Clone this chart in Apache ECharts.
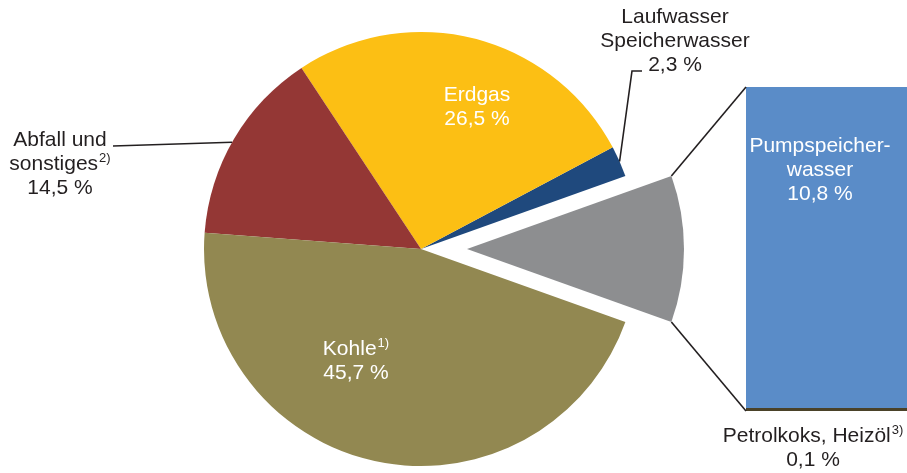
<!DOCTYPE html>
<html>
<head>
<meta charset="utf-8">
<script src="https://cdn.jsdelivr.net/npm/echarts@6/dist/echarts.min.js"></script>
<style>
html, body { margin: 0; padding: 0; background: #fff; }
#main { width: 907px; height: 473px; }
</style>
</head>
<body>
<div id="main"></div>
<script>
// pie: first slice is the exploded one, split up in the bar on the right
var pieNames = ['Pumpspeicherwasser, Petrolkoks, Heizöl', 'Laufwasser Speicherwasser', 'Erdgas', 'Abfall und sonstiges', 'Kohle'];
var pieLabels = ['', 'Laufwasser\nSpeicherwasser', 'Erdgas', 'Abfall und\nsonstiges', 'Kohle'];
var pieNotes = ['', '', '', '2)', '1)'];
var pieValues = [10.9, 2.3, 26.5, 14.5, 45.7];
var pieColors = ['#8d8e90', '#1f497d', '#fcbf14', '#943735', '#928851'];

// bar: bottom to top
var barNames = ['Petrolkoks, Heizöl', 'Pumpspeicherwasser'];
var barLabels = ['Petrolkoks, Heizöl', 'Pumpspeicher-\nwasser'];
var barNotes = ['3)', ''];
var barValues = [0.1, 10.8];
var barColors = ['#4a4229', '#5a8cc8'];

var font = 'Liberation Sans';
var dark = '#231f20';
var cx = 421, cy = 249, R = 217, explode = 46;
var gridL = 746, gridT = 87, gridB = 62;

function fmt(v) {
	return v.toFixed(1).replace('.', ',') + ' %';
}
function polar(x, y, r, deg) {
	var a = deg * Math.PI / 180;
	return [x + r * Math.cos(a), y - r * Math.sin(a)];
}
//label text with a superscript note behind the name
function labelText(name, note, value) {
	var lines = name.split('\n').map(function (l) { return '{t|' + l + '}'; });
	if (note) {
		lines[lines.length - 1] += '{s|' + note + '}';
	}
	lines.push('{t|' + fmt(value) + '}');
	return lines.join('\n');
}
function textItem(x, y, text, color) {
	return {
		type: 'text', x: x, y: y, z: 100, silent: true,
		style: {
			text: text, align: 'center', verticalAlign: 'middle',
			rich: {
				t: { fontFamily: font, fontSize: 21, lineHeight: 24, fill: color, color: color },
				s: { fontFamily: font, fontSize: 13, lineHeight: 24, fill: color, color: color, verticalAlign: 'top', padding: [0, 0, 6, 1] }
			}
		}
	};
}
function lineItem(points) {
	return {
		type: 'polyline', z: 100, silent: true,
		shape: { points: points },
		style: { stroke: dark, lineWidth: 1.6, fill: null }
	};
}

var sum = pieValues.reduce(function (a, b) { return a + b; }, 0);
var half = pieValues[0] / sum * 180;
// mid angle of each slice (counterclockwise, starting below the horizontal)
var mids = [];
var acc = -half;
for (var i = 0; i < pieValues.length; i++) {
	var span = pieValues[i] / sum * 360;
	mids.push(acc + span / 2);
	acc += span;
}

var chart = echarts.init(document.getElementById('main'), null, { renderer: 'canvas' });

var apex = [cx + explode, cy];
var gTop = polar(apex[0], apex[1], R, half);
var gBot = polar(apex[0], apex[1], R, -half);
var barBottom = 473 - gridB;

var graphics = [
	// connectors from exploded slice to the bar
	lineItem([gTop, [gridL, gridT]]),
	lineItem([gBot, [gridL, barBottom]]),
	// leader lines
	lineItem([polar(cx, cy, R, mids[1]), [632, 71], [642, 71]]),
	lineItem([[113, 146], polar(cx, cy, R, mids[3] + 1)]),
	// labels
	textItem(675, 41, labelText(pieLabels[1], pieNotes[1], pieValues[1]), dark),
	textItem(477, 107, labelText(pieLabels[2], pieNotes[2], pieValues[2]), '#fff'),
	textItem(60, 164, labelText(pieLabels[3], pieNotes[3], pieValues[3]), dark),
	textItem(356, 361, labelText(pieLabels[4], pieNotes[4], pieValues[4]), '#fff'),
	textItem(820, 170, labelText(barLabels[1], barNotes[1], barValues[1]), '#fff'),
	textItem(813, 448, labelText(barLabels[0], barNotes[0], barValues[0]), dark)
];

var option = {
	animation: false,
	backgroundColor: '#fff',
	grid: { left: gridL, right: 0, top: gridT, bottom: gridB },
	xAxis: { type: 'category', data: ['Anteil'], show: false },
	yAxis: { type: 'value', min: 0, max: barValues[0] + barValues[1], show: false },
	series: [
		{
			type: 'pie',
			center: [cx, cy],
			radius: R,
			startAngle: -half,
			clockwise: false,
			selectedMode: 'single',
			selectedOffset: explode,
			silent: true,
			label: { show: false },
			labelLine: { show: false },
			itemStyle: { borderWidth: 0 },
			data: pieNames.map(function (n, i) {
				return { name: n, value: pieValues[i], selected: i === 0, itemStyle: { color: pieColors[i] } };
			})
		}
	].concat(barNames.map(function (n, i) {
		return {
			type: 'bar', name: n, stack: 'rest', silent: true,
			barWidth: '100%',
			itemStyle: { color: barColors[i] },
			data: [barValues[i]]
		};
	})),
	graphic: graphics
};

chart.setOption(option);
</script>
</body>
</html>
